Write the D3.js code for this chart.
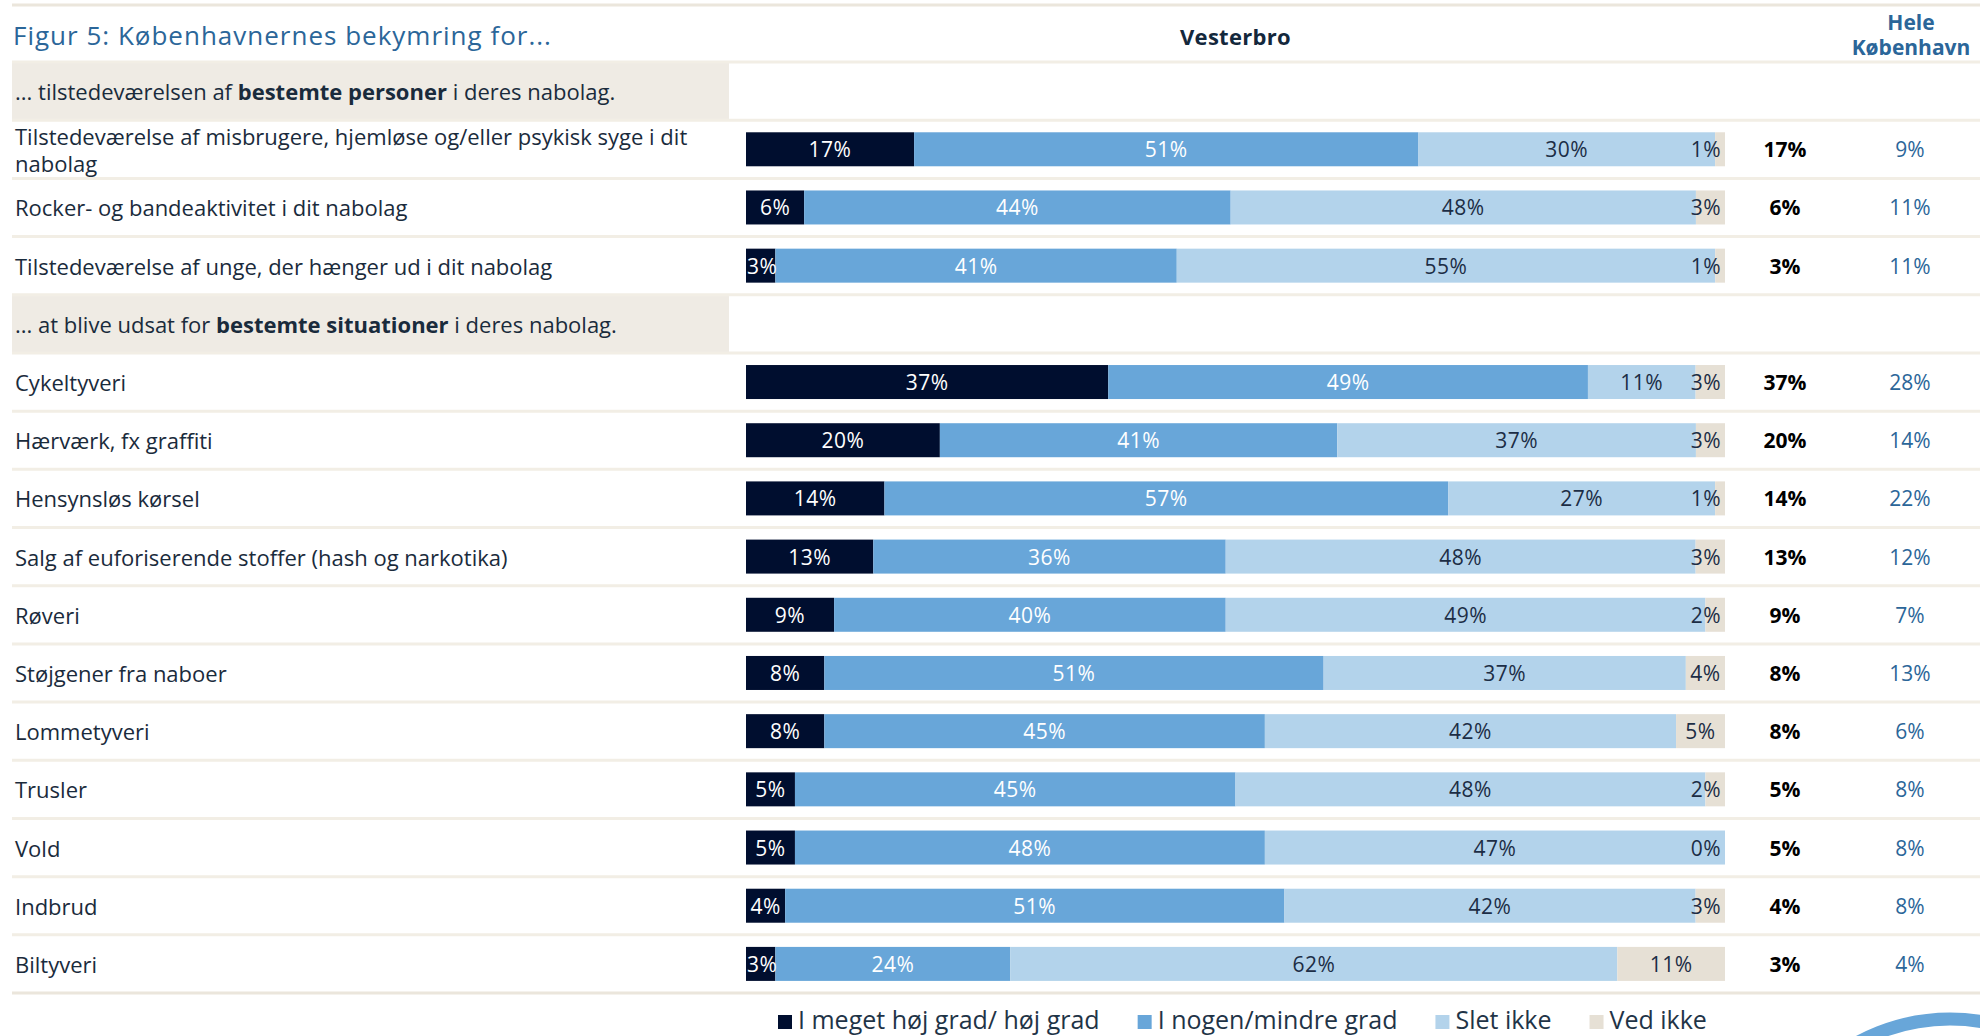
<!DOCTYPE html>
<html>
<head>
<meta charset="utf-8">
<script src="https://cdn.jsdelivr.net/npm/d3@7"></script>
<style>
  body { margin: 0; background: white; }
  svg { display: block; font-family: "Open Sans", sans-serif; }
</style>
</head>
<body>
<script>
const width = 1980
, height = 1036

// data
const categories = [
    "Tilstedeværelse af misbrugere, hjemløse og/eller psykisk syge i dit nabolag",
    "Rocker- og bandeaktivitet i dit nabolag",
    "Tilstedeværelse af unge, der hænger ud i dit nabolag",
    "Cykeltyveri",
    "Hærværk, fx graffiti",
    "Hensynsløs kørsel",
    "Salg af euforiserende stoffer (hash og narkotika)",
    "Røveri",
    "Støjgener fra naboer",
    "Lommetyveri",
    "Trusler",
    "Vold",
    "Indbrud",
    "Biltyveri"
]
const hoejGrad  = [17,  6,  3, 37, 20, 14, 13,  9,  8,  8,  5,  5,  4,  3]
const nogenGrad = [51, 44, 41, 49, 41, 57, 36, 40, 51, 45, 45, 48, 51, 24]
const sletIkke  = [30, 48, 55, 11, 37, 27, 48, 49, 37, 42, 48, 47, 42, 62]
const vedIkke   = [ 1,  3,  1,  3,  3,  1,  3,  2,  4,  5,  2,  0,  3, 11]
const vesterbro = [17,  6,  3, 37, 20, 14, 13,  9,  8,  8,  5,  5,  4,  3]
const heleKbh   = [ 9, 11, 11, 28, 14, 22, 12,  7, 13,  6,  8,  8,  8,  4]

const seriesKeys = ["I meget høj grad/ høj grad", "I nogen/mindre grad", "Slet ikke", "Ved ikke"]
const seriesColors = ["#000e2f", "#68a6d9", "#b3d3eb", "#e6e0d5"]
const labelColors = ["#ffffff", "#ffffff", "#1c2d45", "#1c2d45"]

// section headers: inserted before category index `before`
const sections = [
    {before: 0, pre: "... tilstedeværelsen af ", bold: "bestemte personer", post: " i deres nabolag."},
    {before: 3, pre: "... at blive udsat for ", bold: "bestemte situationer", post: " i deres nabolag."}
]

const title = "Figur 5: Københavnernes bekymring for..."

// build table rows
const table = categories.map((c, i) => {
    const row = {name: c, i: i}
    row[seriesKeys[0]] = hoejGrad[i]
    row[seriesKeys[1]] = nogenGrad[i]
    row[seriesKeys[2]] = sletIkke[i]
    row[seriesKeys[3]] = vedIkke[i]
    return row
})

let rowKeys = []
categories.forEach((c, i) => {
    sections.filter(s => s.before == i).forEach(s => rowKeys.push("section" + s.before))
    rowKeys.push(c)
})

const svg = d3.select('body').append('svg')
    .attr('width', width)
    .attr('height', height)

const yScale = d3.scaleBand()
    .domain(rowKeys)
    .range([62, 993])

const xScale = d3.scaleLinear()
    .domain([0, 1])
    .range([746, 1725])

const stacked = d3.stack()
    .keys(seriesKeys)
    .offset(d3.stackOffsetExpand)(table)

const barH = 34
const lineColor = "#f2eee5"

// top line
svg.append('line')
    .attr('x1', 12).attr('x2', width)
    .attr('y1', 5).attr('y2', 5)
    .attr('stroke', '#ebe6dc')
    .attr('stroke-width', 3)

// title
svg.append('text')
    .attr('x', 13)
    .attr('y', 35)
    .attr('dominant-baseline', 'central')
    .attr('fill', '#2b6699')
    .style('font-size', '26px')
    .style('letter-spacing', '1px')
    .text(title)

svg.append('text')
    .attr('x', (xScale(0) + xScale(1)) / 2)
    .attr('y', 36)
    .attr('text-anchor', 'middle')
    .attr('dominant-baseline', 'central')
    .attr('fill', '#14283c')
    .style('font-size', '22px')
    .style('font-weight', 'bold')
    .style('letter-spacing', '0.3px')
    .text("Vesterbro")

svg.append('text')
    .attr('x', 1911)
    .attr('y', 22)
    .attr('text-anchor', 'middle')
    .attr('dominant-baseline', 'central')
    .attr('fill', '#2b6699')
    .style('font-size', '21px')
    .style('font-weight', 'bold')
    .selectAll('tspan')
    .data(["Hele", "København"])
    .enter()
    .append('tspan')
        .attr('x', 1911)
        .attr('dy', (d, i) => i == 0 ? 0 : 25)
        .text(d => d)

// section header bands
sections.forEach(s => {
    const y0 = yScale("section" + s.before)
    svg.append('rect')
        .attr('x', 12)
        .attr('y', y0)
        .attr('width', 717)
        .attr('height', yScale.bandwidth())
        .attr('fill', '#efebe4')

    const t = svg.append('text')
        .attr('x', 15)
        .attr('y', y0 + yScale.bandwidth() / 2)
        .attr('dominant-baseline', 'central')
        .attr('fill', '#1a2b3c')
        .style('font-size', '22px')
    t.append('tspan').text(s.pre)
    t.append('tspan').style('font-weight', 'bold').text(s.bold)
    t.append('tspan').text(s.post)
})

// separator lines between rows
svg.selectAll('.sep')
    .data(d3.range(rowKeys.length + 1))
    .enter()
    .append('line')
        .attr('x1', 12)
        .attr('x2', width)
        .attr('y1', i => yScale.range()[0] + i * yScale.step())
        .attr('y2', i => yScale.range()[0] + i * yScale.step())
        .attr('stroke', (i) => i == rowKeys.length ? '#ebe6dc' : lineColor)
        .attr('stroke-width', 3)

// category labels (wrapped when too long)
const labels = svg.selectAll('.cat')
    .data(categories)
    .enter()
    .append('text')
        .attr('class', 'cat')
        .attr('x', 15)
        .attr('fill', '#1a2b3c')
        .style('font-size', '22px')

labels.each(function(d) {
    const el = d3.select(this)
    const words = d.split(' ')
    let lines = [], cur = ''
    const probe = el.append('tspan')
    words.forEach(w => {
        const test = cur ? cur + ' ' + w : w
        probe.text(test)
        if (probe.node().getComputedTextLength() > 700 && cur) {
            lines.push(cur)
            cur = w
        } else {
            cur = test
        }
    })
    lines.push(cur)
    probe.remove()
    const cy = yScale(d) + yScale.bandwidth() / 2
    const lh = 27
    lines.forEach((l, k) => {
        el.append('tspan')
            .attr('x', 15)
            .attr('y', cy - (lines.length - 1) * lh / 2 + k * lh)
            .attr('dominant-baseline', 'central')
            .text(l)
    })
})

// stacked bars
const groups = svg.selectAll('.series')
    .data(stacked)
    .enter()
    .append('g')
        .attr('class', 'series')
        .attr('fill', (d, i) => seriesColors[i])

groups.selectAll('rect')
    .data(d => d)
    .enter()
    .append('rect')
        .attr('x', d => xScale(d[0]))
        .attr('y', d => yScale(d.data.name) + (yScale.bandwidth() - barH) / 2)
        .attr('width', d => xScale(d[1]) - xScale(d[0]))
        .attr('height', barH)

// labels inside segments
stacked.forEach((s, k) => {
    svg.selectAll('.lab' + k)
        .data(s)
        .enter()
        .append('text')
            .attr('class', 'lab' + k)
            .attr('y', d => yScale(d.data.name) + yScale.bandwidth() / 2)
            .attr('text-anchor', 'middle')
            .attr('dominant-baseline', 'central')
            .attr('fill', labelColors[k])
            .style('font-size', '21px')
            .style('letter-spacing', '0.5px')
            .text(d => d.data[s.key] + '%')
            .attr('x', function(d) {
                const w = this.getComputedTextLength()
                let cx = (xScale(d[0]) + xScale(d[1])) / 2
                cx = Math.min(cx, xScale(1) - w / 2 - 4)
                cx = Math.max(cx, xScale(0) + w / 2 + 1)
                return cx
            })
})

// right columns
svg.selectAll('.vb')
    .data(categories)
    .enter()
    .append('text')
        .attr('x', 1785)
        .attr('y', d => yScale(d) + yScale.bandwidth() / 2)
        .attr('text-anchor', 'middle')
        .attr('dominant-baseline', 'central')
        .attr('fill', '#000000')
        .style('font-size', '21px')
        .style('font-weight', 'bold')
        .text((d, i) => vesterbro[i] + '%')

svg.selectAll('.hk')
    .data(categories)
    .enter()
    .append('text')
        .attr('x', 1910)
        .attr('y', d => yScale(d) + yScale.bandwidth() / 2)
        .attr('text-anchor', 'middle')
        .attr('dominant-baseline', 'central')
        .attr('fill', '#2b6699')
        .style('font-size', '21px')
        .text((d, i) => heleKbh[i] + '%')

// legend
const legend = svg.append('g')
let lx = 778
seriesKeys.forEach((k, i) => {
    legend.append('rect')
        .attr('x', lx)
        .attr('y', 1015)
        .attr('width', 14)
        .attr('height', 14)
        .attr('fill', seriesColors[i])
    const t = legend.append('text')
        .attr('x', lx + 20)
        .attr('y', 1029)
        .attr('fill', '#1f3447')
        .style('font-size', '25px')
        .text(k)
    lx = lx + 20 + t.node().getComputedTextLength() + 38
})

// logo ring, cut off at the bottom right
svg.append('circle')
    .attr('cx', 1950)
    .attr('cy', 1212)
    .attr('r', 193)
    .attr('fill', 'none')
    .attr('stroke', '#68a6d9')
    .attr('stroke-width', 13)
</script>
</body>
</html>
